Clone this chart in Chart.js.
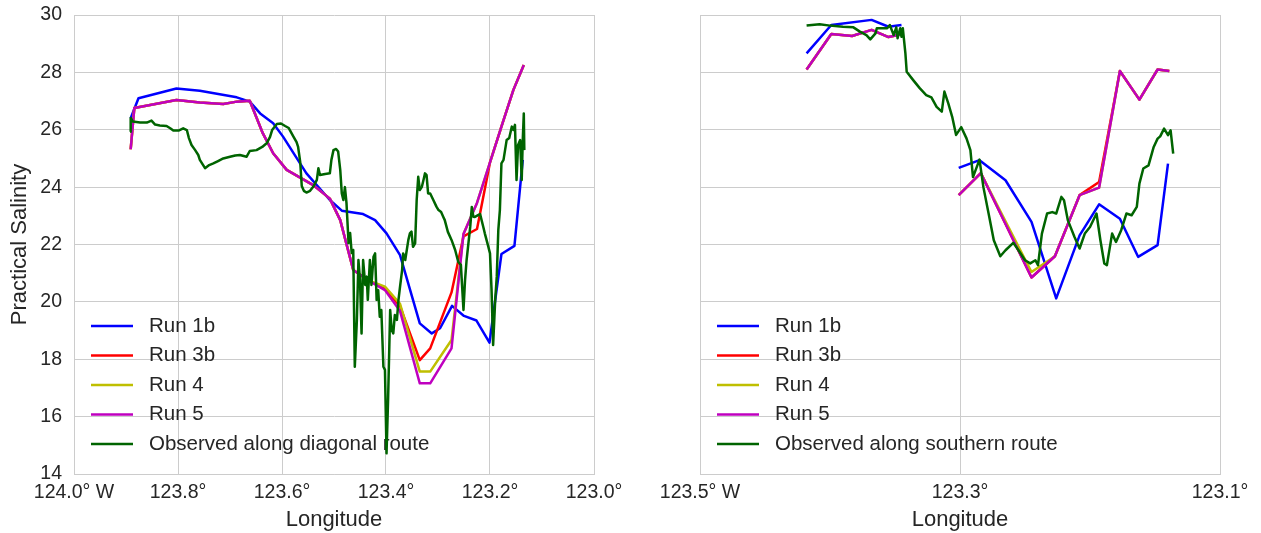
<!DOCTYPE html>
<html>
<head>
<meta charset="utf-8">
<script src="https://cdn.jsdelivr.net/npm/chart.js@4.4.1/dist/chart.umd.min.js"></script>
<style>
  body { margin: 0; background: #fff; }
  #wrap { position: relative; width: 1261px; height: 533px; }
  canvas { position: absolute; top: 0; }
  #diagonal { left: 0; }
  #southern { left: 630px; }
</style>
</head>
<body>
<div id="wrap">
  <canvas id="diagonal" width="630" height="533"></canvas>
  <canvas id="southern" width="631" height="533"></canvas>
</div>
<script>
// tick positions (longitude in degrees, negative = west)
const diagTicks = [-124.0, -123.8, -123.6, -123.4, -123.2, -123.0];
const southTicks = [-123.5, -123.3, -123.1];
const salTicks = [14, 16, 18, 20, 22, 24, 26, 28, 30];

// diagonal route - model runs
const diagRun1bLon = [-123.891, -123.876, -123.803, -123.758, -123.687, -123.662, -123.642, -123.617, -123.598, -123.553,
  -123.508, -123.485, -123.444, -123.421, -123.399, -123.373, -123.335, -123.312, -123.296, -123.273,
  -123.250, -123.226, -123.201, -123.178, -123.153, -123.137];
const diagRun1bSal = [26.40, 27.10, 27.44, 27.36, 27.13, 26.98, 26.57, 26.23, 25.76, 24.48,
  23.55, 23.18, 23.06, 22.85, 22.39, 21.63, 19.25, 18.90, 19.08, 19.86,
  19.51, 19.35, 18.58, 21.67, 21.95, 24.95];

const diagModelLon = [-123.891, -123.884, -123.803, -123.758, -123.713, -123.687, -123.662, -123.637, -123.617, -123.591,
  -123.540, -123.508, -123.488, -123.463, -123.435, -123.402, -123.373, -123.335, -123.315, -123.274,
  -123.251, -123.225, -123.200, -123.178, -123.155, -123.135];
const diagRun3bSal = [25.32, 26.76, 27.04, 26.95, 26.90, 26.98, 27.01, 25.88, 25.18, 24.60,
  24.07, 23.60, 22.85, 21.11, 20.76, 20.45, 19.85, 17.97, 18.38, 20.33,
  22.28, 22.54, 24.86, 26.11, 27.39, 28.26];
const diagRun4Sal = [25.32, 26.76, 27.04, 26.95, 26.90, 26.98, 27.01, 25.88, 25.18, 24.60,
  24.07, 23.60, 22.85, 21.11, 20.76, 20.53, 19.93, 17.57, 17.57, 18.67,
  22.37, 23.45, 24.86, 26.11, 27.39, 28.26];
const diagRun5Sal = [25.32, 26.76, 27.04, 26.95, 26.90, 26.98, 27.01, 25.88, 25.18, 24.60,
  24.07, 23.60, 22.85, 21.11, 20.76, 20.41, 19.68, 17.16, 17.16, 18.38,
  22.37, 23.45, 24.86, 26.11, 27.39, 28.26];

// diagonal route - ferry observations
const diagObsLon = [-123.892, -123.891, -123.887, -123.873, -123.860, -123.851, -123.844, -123.835, -123.822, -123.815,
  -123.809, -123.799, -123.790, -123.783, -123.779, -123.774, -123.767, -123.761, -123.758, -123.748,
  -123.740, -123.732, -123.723, -123.713, -123.700, -123.690, -123.681, -123.668, -123.662, -123.649,
  -123.638, -123.629, -123.623, -123.619, -123.610, -123.602, -123.594, -123.587, -123.578, -123.572,
  -123.569, -123.565, -123.562, -123.558, -123.553, -123.546, -123.540, -123.533, -123.530, -123.527,
  -123.517, -123.508, -123.505, -123.501, -123.496, -123.492, -123.488, -123.485, -123.482, -123.479,
  -123.476, -123.472, -123.469, -123.466, -123.463, -123.460, -123.456, -123.453, -123.450, -123.447,
  -123.444, -123.440, -123.437, -123.435, -123.431, -123.428, -123.424, -123.421, -123.418, -123.415,
  -123.412, -123.409, -123.405, -123.402, -123.399, -123.396, -123.392, -123.389, -123.386, -123.383,
  -123.379, -123.376, -123.373, -123.369, -123.367, -123.363, -123.357, -123.354, -123.351, -123.348,
  -123.344, -123.341, -123.338, -123.335, -123.331, -123.327, -123.325, -123.322, -123.319, -123.315,
  -123.309, -123.303, -123.299, -123.294, -123.290, -123.287, -123.281, -123.274, -123.267, -123.261,
  -123.256, -123.251, -123.248, -123.245, -123.238, -123.235, -123.232, -123.229, -123.222, -123.219,
  -123.213, -123.210, -123.204, -123.200, -123.197, -123.194, -123.190, -123.187, -123.184, -123.181,
  -123.178, -123.174, -123.168, -123.163, -123.158, -123.155, -123.152, -123.149, -123.146, -123.142,
  -123.139, -123.137, -123.135, -123.134];
const diagObsSal = [25.93, 26.41, 26.29, 26.25, 26.25, 26.32, 26.18, 26.15, 26.13, 26.05,
  25.97, 25.97, 26.05, 25.99, 25.71, 25.47, 25.29, 25.12, 24.95, 24.66,
  24.77, 24.83, 24.91, 25.00, 25.06, 25.10, 25.12, 25.06, 25.26, 25.29,
  25.40, 25.54, 25.75, 25.99, 26.20, 26.22, 26.13, 26.06, 25.76, 25.57,
  25.40, 24.88, 24.04, 23.87, 23.81, 23.87, 24.01, 24.25, 24.66, 24.42,
  24.46, 24.48, 24.95, 25.29, 25.33, 25.24, 24.60, 23.78, 23.55, 24.00,
  23.45, 22.05, 22.40, 21.70, 21.81, 17.74, 19.37, 21.46, 20.76, 18.90,
  21.46, 20.59, 20.88, 20.07, 21.46, 20.59, 21.57, 21.69, 20.07, 20.41,
  19.48, 19.72, 17.74, 17.63, 14.72, 16.58, 19.72, 19.02, 18.90, 19.54,
  19.37, 20.07, 20.53, 21.11, 21.69, 21.46, 22.16, 22.39, 22.45, 21.92,
  22.04, 23.55, 24.36, 23.90, 24.01, 24.32, 24.48, 24.42, 23.78, 23.78,
  23.55, 23.32, 23.20, 23.13, 22.97, 22.85, 22.44, 22.16, 21.81, 21.39,
  21.29, 19.72, 20.76, 21.46, 22.62, 23.31, 22.97, 22.96, 23.03, 23.06,
  22.62, 22.39, 21.98, 21.69, 20.41, 18.50, 20.07, 20.88, 22.51, 23.20,
  24.83, 24.95, 25.64, 25.71, 26.11, 25.99, 26.17, 24.25, 25.47, 25.64,
  24.25, 25.64, 26.57, 25.29];

// southern route - model runs (null = no model output between the two legs)
const southRun1bLon = [-123.418, -123.399, -123.368, -123.355, -123.345, -123.320, -123.301, -123.285, -123.265, -123.245,
  -123.226, -123.208, -123.193, -123.177, -123.163, -123.148, -123.140];
const southRun1bSal = [28.66, 29.65, 29.83, 29.59, 29.65, null, 24.67, 24.94, 24.24, 22.79,
  20.12, 22.32, 23.40, 22.90, 21.57, 21.98, 24.82];

const southModelLon = [-123.418, -123.399, -123.383, -123.368, -123.355, -123.346, -123.320, -123.301, -123.284, -123.245,
  -123.227, -123.208, -123.193, -123.177, -123.162, -123.148, -123.139];
const southRun3bSal = [28.10, 29.34, 29.27, 29.48, 29.23, 29.32, null, 23.72, 24.49, 20.85,
  21.59, 23.72, 24.18, 28.05, 27.05, 28.10, 28.05];
const southRun4Sal = [28.10, 29.34, 29.27, 29.48, 29.23, 29.32, null, 23.72, 24.49, 21.04,
  21.59, 23.72, 23.98, 28.05, 27.05, 28.10, 28.05];
const southRun5Sal = [28.10, 29.34, 29.27, 29.48, 29.23, 29.32, null, 23.72, 24.49, 20.85,
  21.59, 23.72, 23.98, 28.05, 27.05, 28.10, 28.05];

// southern route - ferry observations
const southObsLon = [-123.418, -123.408, -123.400, -123.390, -123.382, -123.377, -123.372, -123.369, -123.365, -123.364,
  -123.356, -123.354, -123.351, -123.349, -123.348, -123.346, -123.345, -123.344, -123.342, -123.341,
  -123.336, -123.331, -123.326, -123.322, -123.318, -123.314, -123.312, -123.309, -123.306, -123.303,
  -123.299, -123.295, -123.292, -123.290, -123.285, -123.282, -123.278, -123.274, -123.269, -123.265,
  -123.259, -123.255, -123.250, -123.246, -123.242, -123.240, -123.237, -123.233, -123.229, -123.226,
  -123.222, -123.220, -123.217, -123.212, -123.208, -123.204, -123.200, -123.195, -123.192, -123.189,
  -123.187, -123.183, -123.180, -123.176, -123.172, -123.168, -123.164, -123.162, -123.159, -123.155,
  -123.151, -123.148, -123.146, -123.143, -123.140, -123.138, -123.136];
const southObsSal = [29.63, 29.68, 29.63, 29.59, 29.57, 29.42, 29.30, 29.15, 29.36, 29.54,
  29.54, 29.65, 29.30, 29.57, 29.19, 29.54, 29.24, 29.54, 28.66, 28.02,
  27.73, 27.45, 27.21, 27.13, 26.80, 26.63, 27.33, 26.92, 26.45, 25.82,
  26.09, 25.70, 25.29, 24.35, 24.96, 24.00, 23.08, 22.15, 21.59, 21.80,
  22.06, 21.80, 21.45, 21.34, 21.45, 21.28, 22.38, 23.08, 23.13, 23.08,
  23.66, 23.54, 22.84, 22.27, 21.86, 22.38, 22.61, 23.08, 22.15, 21.34,
  21.28, 22.38, 22.09, 22.50, 23.08, 23.02, 23.31, 24.12, 24.65, 24.76,
  25.40, 25.69, 25.77, 26.04, 25.81, 25.98, 25.17];

const TEXT = '#262626';
const GRID = '#cccccc';
Chart.defaults.font.family = "'Liberation Sans', Arial, sans-serif";
Chart.defaults.color = TEXT;

function points(lons, sals) {
  return lons.map((lon, i) => ({ x: lon, y: sals[i] }));
}

function lonLabel(value, index) {
  return Math.abs(value).toFixed(1) + '°' + (index === 0 ? ' W' : '');
}

function series(label, color, order, lons, sals) {
  return {
    label: label,
    data: points(lons, sals),
    borderColor: color,
    backgroundColor: color,
    borderWidth: 2.5,
    borderJoinStyle: 'round',
    pointRadius: 0,
    fill: false,
    tension: 0,
    order: order
  };
}

// legend drawn inside the plot, lower left, like the matplotlib one
const insideLegend = {
  id: 'insideLegend',
  beforeDatasetsDraw(chart) {
    const ctx = chart.ctx;
    const area = chart.chartArea;
    const sets = chart.data.datasets;
    ctx.save();
    ctx.font = "20.5px 'Liberation Sans', Arial, sans-serif";
    ctx.fillStyle = TEXT;
    ctx.textBaseline = 'middle';
    ctx.textAlign = 'left';
    sets.forEach((ds, i) => {
      const y = area.bottom - 30 - (sets.length - 1 - i) * 29.5;
      ctx.strokeStyle = ds.borderColor;
      ctx.lineWidth = 2.5;
      ctx.beginPath();
      ctx.moveTo(area.left + 17, y);
      ctx.lineTo(area.left + 59, y);
      ctx.stroke();
      ctx.fillText(ds.label, area.left + 75, y);
    });
    ctx.restore();
  }
};

function makeOptions(xTicks, showY, yWidth, padRight) {
  return {
    responsive: false,
    animation: false,
    events: [],
    layout: { padding: { left: 0, right: padRight, top: 15, bottom: 0 } },
    plugins: { legend: { display: false }, tooltip: { enabled: false } },
    scales: {
      x: {
        type: 'linear',
        min: xTicks[0],
        max: xTicks[xTicks.length - 1],
        afterBuildTicks: s => { s.ticks = xTicks.map(v => ({ value: v })); },
        afterFit: s => { s.height = 59; s.paddingLeft = 0; s.paddingRight = 0; },
        ticks: { padding: 7, maxRotation: 0, autoSkip: false, font: { size: 19.5 }, callback: (v, i) => lonLabel(v, i) },
        grid: { color: GRID, lineWidth: 1, drawTicks: false },
        border: { color: GRID, width: 1 },
        title: { display: true, text: 'Longitude', font: { size: 22 }, padding: { top: 0, bottom: 0 } }
      },
      y: {
        min: 14,
        max: 30,
        afterBuildTicks: s => { s.ticks = salTicks.map(v => ({ value: v })); },
        afterFit: s => { s.width = yWidth; s.paddingTop = 0; s.paddingBottom = 0; },
        ticks: { display: showY, padding: 12, font: { size: 19.5 } },
        grid: { color: GRID, lineWidth: 1, drawTicks: false },
        border: { color: GRID, width: 1 },
        title: { display: showY, text: 'Practical Salinity', font: { size: 22 }, padding: { top: 7, bottom: 0 } }
      }
    }
  };
}

new Chart(document.getElementById('diagonal'), {
  type: 'line',
  data: {
    datasets: [
      series('Run 1b', '#0000ff', 4, diagRun1bLon, diagRun1bSal),
      series('Run 3b', '#ff0000', 3, diagModelLon, diagRun3bSal),
      series('Run 4', '#bfbf00', 2, diagModelLon, diagRun4Sal),
      series('Run 5', '#bf00bf', 1, diagModelLon, diagRun5Sal),
      series('Observed along diagonal route', '#006400', 0, diagObsLon, diagObsSal)
    ]
  },
  options: makeOptions(diagTicks, true, 74, 36),
  plugins: [insideLegend]
});

new Chart(document.getElementById('southern'), {
  type: 'line',
  data: {
    datasets: [
      series('Run 1b', '#0000ff', 4, southRun1bLon, southRun1bSal),
      series('Run 3b', '#ff0000', 3, southModelLon, southRun3bSal),
      series('Run 4', '#bfbf00', 2, southModelLon, southRun4Sal),
      series('Run 5', '#bf00bf', 1, southModelLon, southRun5Sal),
      series('Observed along southern route', '#006400', 0, southObsLon, southObsSal)
    ]
  },
  options: makeOptions(southTicks, false, 70, 41),
  plugins: [insideLegend]
});
</script>
</body>
</html>
